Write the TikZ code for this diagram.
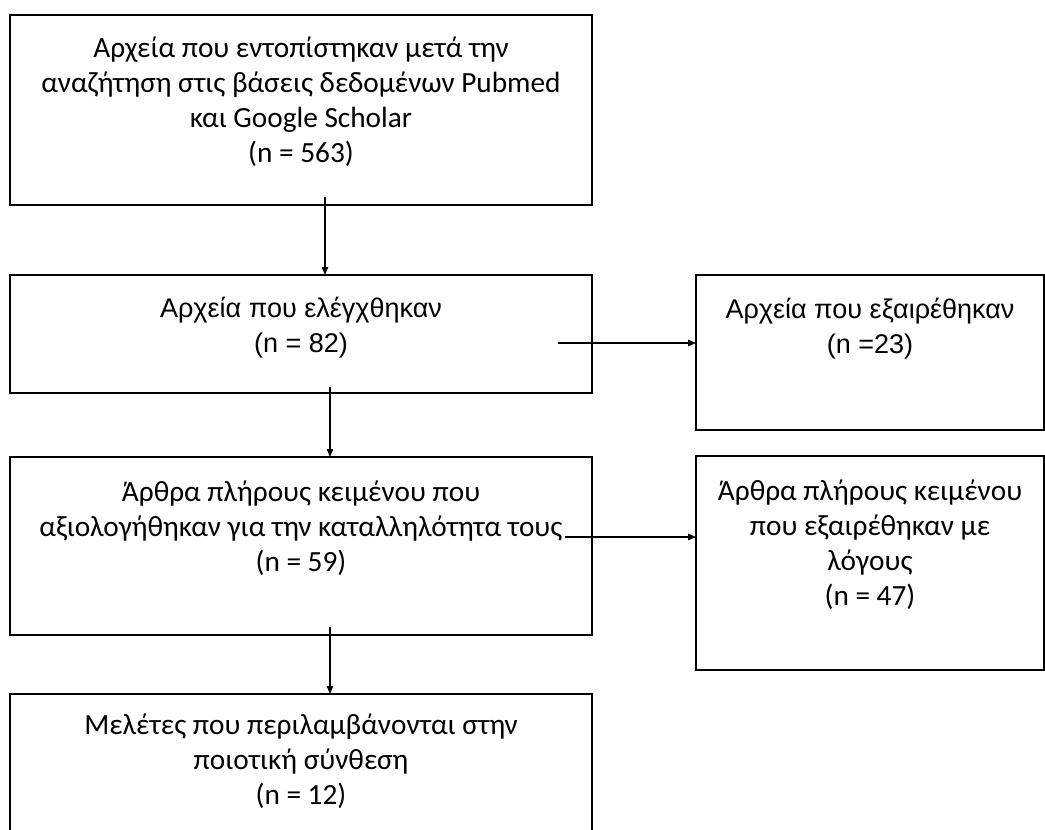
\documentclass[tikz,border=0pt]{standalone}
\usepackage{fontspec}
\setmainfont{Carlito}
\newfontfamily\arialfont{Liberation Sans}
\usetikzlibrary{arrows.meta}
\usetikzlibrary{positioning}

\begin{document}
\begin{tikzpicture}[
      x=1pt,y=1pt,
      stagebox/.style={draw=black,line width=1.5pt,fill=white,outer sep=0pt,anchor=north west,minimum width=582pt},
      sidebox/.style={draw=black,line width=1.5pt,fill=white,outer sep=0pt,anchor=north west,minimum width=348pt},
      boxtext/.style={align=center,inner sep=0pt,anchor=base,font=\fontsize{29.3}{35}\selectfont},
      armtext/.style={align=center,inner sep=0pt,anchor=base,font=\arialfont\fontsize{27}{35}\selectfont},
      flow/.style={draw=black,line width=1.3pt,-{Triangle[length=8pt,width=6.5pt]}}
    ]

    \useasboundingbox (0,0) rectangle (1045,-830);

    \node[stagebox,minimum height=190pt] (found)    at (10,-15)  {};
    \node[stagebox,minimum height=118pt] (screened) at (10,-275) {};
    \node[stagebox,minimum height=178pt] (assessed) at (10,-457) {};
    \node[stagebox,minimum height=160pt] (included) at (10,-694) {};

    \node[sidebox,minimum height=155pt] (excluded) at (696,-275) {};
    \node[sidebox,minimum height=214pt] (fullexcl) at (696,-456) {};

    % base anchor = baseline of the last line
    \node[boxtext] at ([yshift=-147pt]found.north) {Αρχεία που εντοπίστηκαν μετά την\\αναζήτηση στις βάσεις δεδομένων Pubmed\\και Google Scholar\\(n = 563)};
    \node[armtext] at ([yshift=-77pt]screened.north) {Αρχεία που ελέγχθηκαν\\(n = 82)};
    \node[armtext] at ([yshift=-78pt]excluded.north) {Αρχεία που εξαιρέθηκαν\\(n =23)};
    \node[boxtext] at ([yshift=-114pt]assessed.north) {Άρθρα πλήρους κειμένου που\\αξιολογήθηκαν για την καταλληλότητα τους\\(n = 59)};
    \node[boxtext] at ([yshift=-149pt]fullexcl.north) {Άρθρα πλήρους κειμένου\\που εξαιρέθηκαν με\\λόγους\\(n = 47)};
    \node[boxtext] at ([yshift=-110pt]included.north) {Μελέτες που περιλαμβάνονται στην\\ποιοτική σύνθεση\\(n = 12)};

    \coordinate (foundout)    at (325,-197);
    \coordinate (screenout)   at (330,-387);
    \coordinate (assessout)   at (330,-627);
    \coordinate (screenright) at (558,-343);
    \coordinate (assessright) at (565,-537);

    \path[flow] (foundout)    -- (foundout |- screened.north);
    \path[flow] (screenout)   -- (screenout |- assessed.north);
    \path[flow] (assessout)   -- (assessout |- included.north);
    \path[flow] (screenright) -- (screenright -| excluded.west);
    \path[flow] (assessright) -- (assessright -| fullexcl.west);
  \end{tikzpicture}
\end{document}
